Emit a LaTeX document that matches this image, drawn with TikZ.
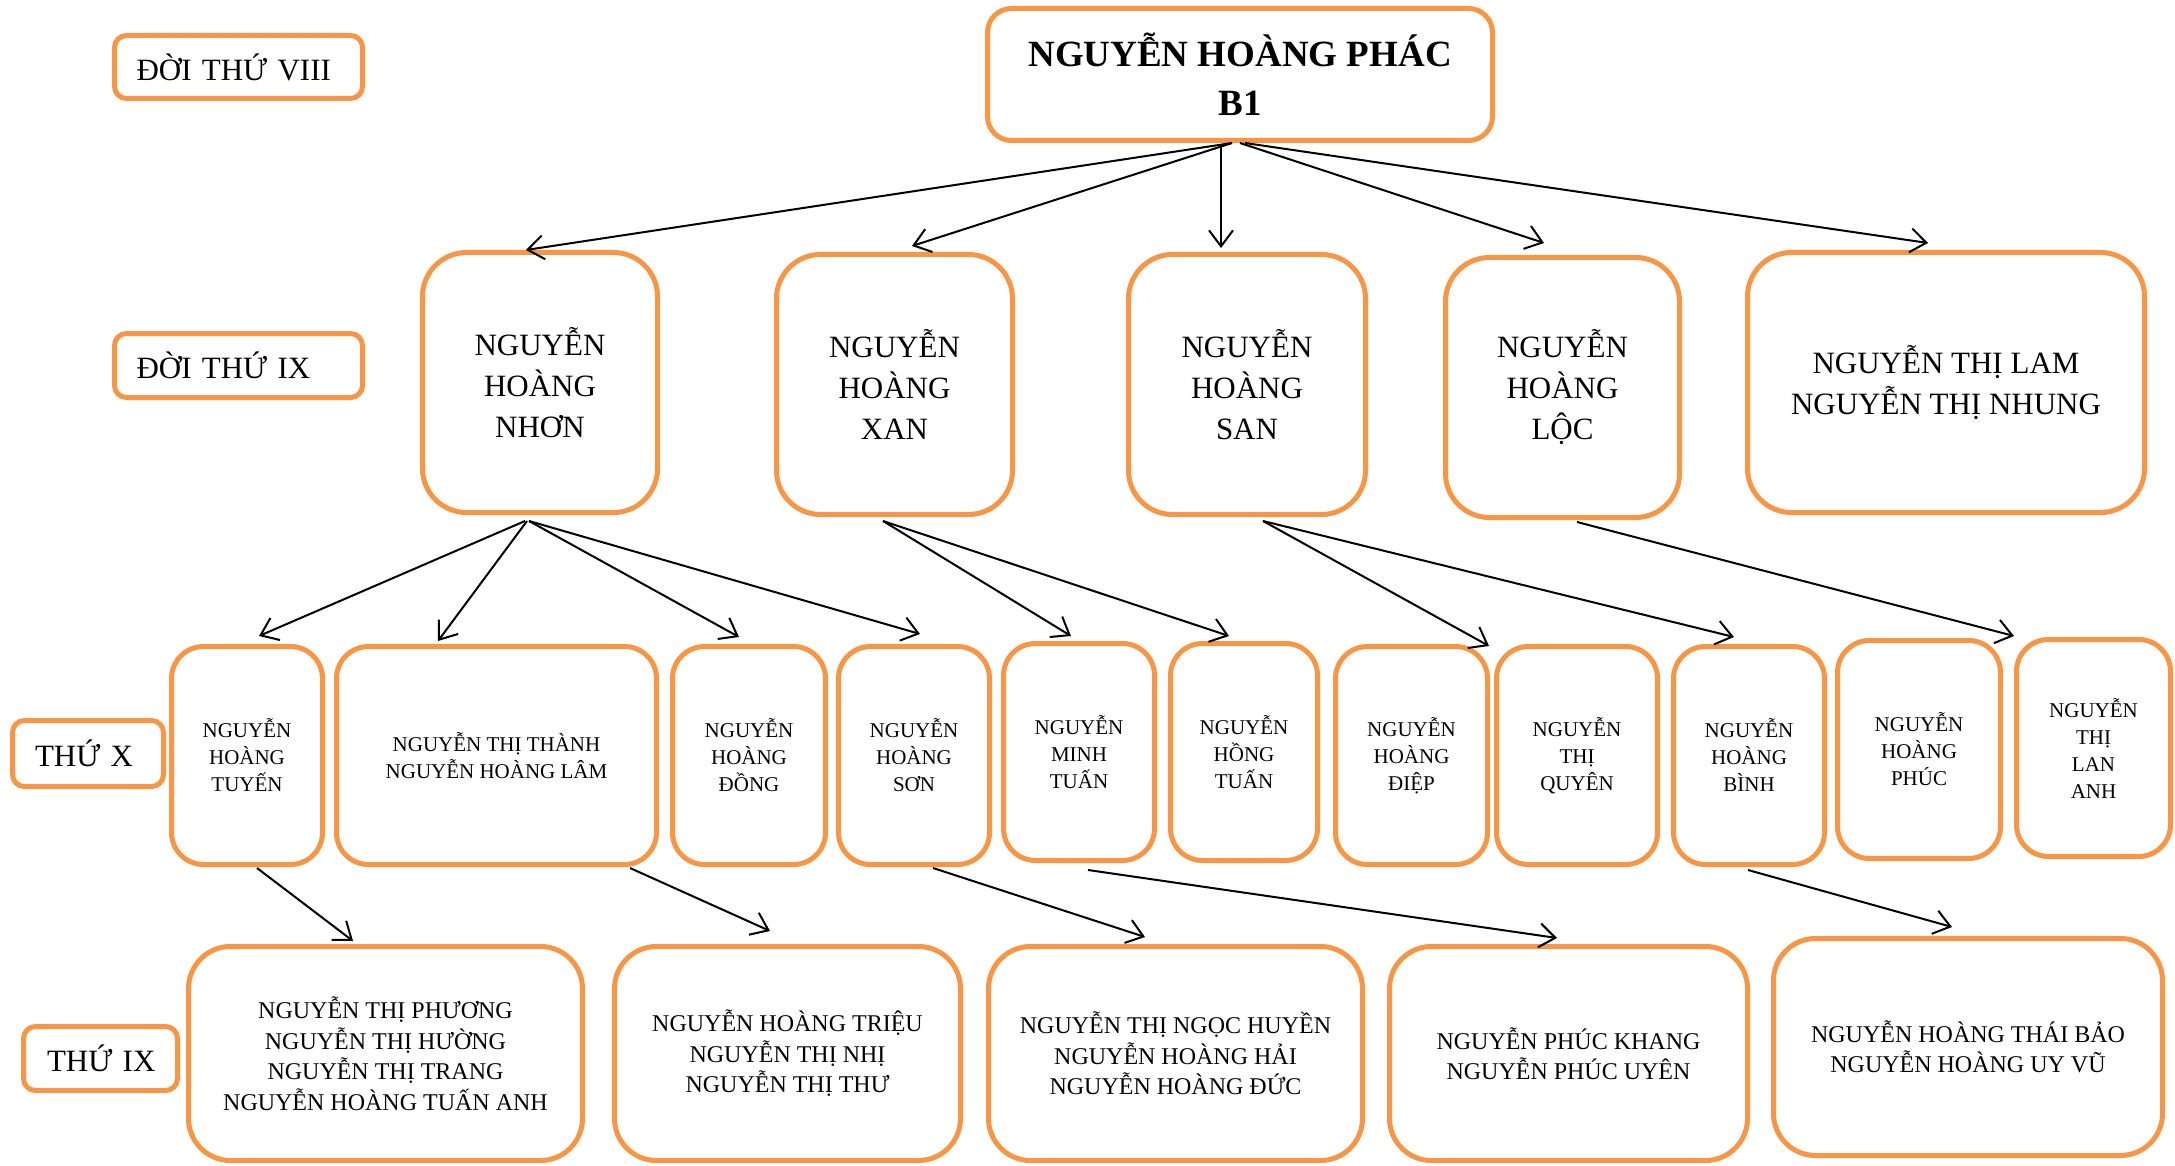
\documentclass[tikz,border=0pt]{standalone}
\usepackage{fontspec}
\setmainfont{Liberation Serif}
\usetikzlibrary{arrows.meta}
\definecolor{boxorange}{HTML}{F79646}
\begin{document}
\begin{tikzpicture}[x=1pt,y=-1pt,
  box/.style={draw=boxorange, line width=5pt, fill=white, align=center, inner sep=0pt, text=black},
  lbl/.style={box, rounded corners=12pt, font=\fontsize{31}{38}\selectfont, align=left},
  topbox/.style={box, rounded corners=24pt, minimum width=505pt, minimum height=132pt, font=\fontsize{37}{49}\selectfont\bfseries},
  gennine/.style={box, rounded corners=44pt, minimum height=260pt, font=\fontsize{31}{41}\selectfont},
  genten/.style={box, rounded corners=32pt, minimum height=218pt, font=\fontsize{21}{27}\selectfont},
  genlast/.style={box, rounded corners=42pt, minimum height=214pt, font=\fontsize{24}{30.5}\selectfont},
  arr/.style={line width=2pt, draw=black, -{Straight Barb[length=16pt,width=24pt]}}
]
\path[use as bounding box, fill=white] (0,0) rectangle (2175,1166);

% generation labels
\node[lbl, minimum width=248pt, minimum height=63pt, text width=204pt] (l8) at (238.5,67) {\mbox{ĐỜI THỨ VIII}};
\node[lbl, minimum width=248pt, minimum height=64pt, text width=204pt] (l9) at (238.5,365.5) {\mbox{ĐỜI THỨ IX}};
\node[lbl, minimum width=151pt, minimum height=66pt, text width=106pt] (l10) at (88,753.5) {\mbox{THỨ X}};
\node[lbl, minimum width=154pt, minimum height=64pt, text width=107pt] (l11) at (100.5,1058.5) {\mbox{THỨ IX}};

% top
\node[topbox] (top) at (1240,74.5) {NGUYỄN HOÀNG PHÁC\\B1};

% generation IX
\node[gennine, minimum width=235pt] (nhon) at (540,382.5) {NGUYỄN\\HOÀNG\\NHƠN};
\node[gennine, minimum width=236pt] (xan) at (894.5,384.5) {NGUYỄN\\HOÀNG\\XAN};
\node[gennine, minimum width=237pt] (san) at (1247,384.5) {NGUYỄN\\HOÀNG\\SAN};
\node[gennine, minimum width=234pt] (loc) at (1562.5,387.5) {NGUYỄN\\HOÀNG\\LỘC};
\node[gennine, minimum width=397pt] (lam) at (1946,382.5) {NGUYỄN THỊ LAM\\NGUYỄN THỊ NHUNG};

% generation X
\node[genten, minimum width=151pt] (tuyen) at (247,755.5) {NGUYỄN\\HOÀNG\\TUYẾN};
\node[genten, minimum width=320pt] (thanh) at (496.5,755.5) {NGUYỄN THỊ THÀNH\\NGUYỄN HOÀNG LÂM};
\node[genten, minimum width=153pt] (dong) at (749,755.5) {NGUYỄN\\HOÀNG\\ĐỒNG};
\node[genten, minimum width=151pt] (son) at (914,755.5) {NGUYỄN\\HOÀNG\\SƠN};
\node[genten, minimum width=151pt, minimum height=217pt] (minh) at (1079,752) {NGUYỄN\\MINH\\TUẤN};
\node[genten, minimum width=147pt, minimum height=217pt] (hong) at (1244,752) {NGUYỄN\\HỒNG\\TUẤN};
\node[genten, minimum width=152pt] (diep) at (1411.5,755.5) {NGUYỄN\\HOÀNG\\ĐIỆP};
\node[genten, minimum width=161pt] (quyen) at (1577,755.5) {NGUYỄN\\THỊ\\QUYÊN};
\node[genten, minimum width=151pt] (binh) at (1749,755.5) {NGUYỄN\\HOÀNG\\BÌNH};
\node[genten, minimum width=163pt] (phuc) at (1919,749.5) {NGUYỄN\\HOÀNG\\PHÚC};
\node[genten, minimum width=154pt, minimum height=217pt] (lananh) at (2093.5,748) {NGUYỄN\\THỊ\\LAN\\ANH};

% bottom generation
\node[genlast, minimum width=394pt] (bone) at (385.5,1053.5) {NGUYỄN THỊ PHƯƠNG\\NGUYỄN THỊ HƯỜNG\\NGUYỄN THỊ TRANG\\NGUYỄN HOÀNG TUẤN ANH};
\node[genlast, minimum width=346pt] (btwo) at (787.5,1053.5) {NGUYỄN HOÀNG TRIỆU\\NGUYỄN THỊ NHỊ\\NGUYỄN THỊ THƯ};
\node[genlast, minimum width=374pt] (bthree) at (1175.5,1053.5) {NGUYỄN THỊ NGỌC HUYỀN\\NGUYỄN HOÀNG HẢI\\NGUYỄN HOÀNG ĐỨC};
\node[genlast, minimum width=358pt] (bfour) at (1568.5,1053.5) {NGUYỄN PHÚC KHANG\\NGUYỄN PHÚC UYÊN};
\node[genlast, minimum width=389pt, minimum height=217pt] (bfive) at (1968,1047) {NGUYỄN HOÀNG THÁI BẢO\\NGUYỄN HOÀNG UY VŨ};

% arrows top -> IX
\draw[arr] ([xshift=-8pt]top.south) -- ([xshift=-14pt]nhon.north);
\draw[arr] ([xshift=-8pt]top.south) -- ([xshift=17.5pt,yshift=6pt]xan.north);
\draw[arr] ([xshift=-19pt,yshift=-2pt]top.south) -- ([xshift=-26pt,yshift=4pt]san.north);
\draw[arr] (top.south) -- ([xshift=-18.5pt,yshift=12pt]loc.north);
\draw[arr] ([xshift=5pt]top.south) -- ([xshift=-18pt,yshift=7pt]lam.north);

% IX -> X
\draw[arr] ([xshift=-15pt,yshift=-6pt]nhon.south) -- ([xshift=12pt,yshift=8pt]tuyen.north);
\draw[arr] ([xshift=-13pt,yshift=-6pt]nhon.south) -- ([xshift=-58.5pt,yshift=3pt]thanh.north);
\draw[arr] ([xshift=-11pt,yshift=-6pt]nhon.south) -- ([xshift=-10pt,yshift=7pt]dong.north);
\draw[arr] ([xshift=-11pt,yshift=-6pt]nhon.south) -- ([xshift=6pt,yshift=10pt]son.north);
\draw[arr] ([xshift=-11.5pt,yshift=-4pt]xan.south) -- ([xshift=-8pt,yshift=5pt]minh.north);
\draw[arr] ([xshift=-11.5pt,yshift=-4pt]xan.south) -- ([xshift=-15pt,yshift=5pt]hong.north);
\draw[arr] ([xshift=16pt,yshift=-4pt]san.south) -- ([xshift=-1pt,yshift=-2pt]diep.north east);
\draw[arr] ([xshift=16pt,yshift=-4pt]san.south) -- ([xshift=-15pt,yshift=7pt]binh.north);
\draw[arr] ([xshift=14.5pt,yshift=-2pt]loc.south) -- ([yshift=1pt]lananh.north west);

% X -> last
\draw[arr] ([xshift=10pt,yshift=-1pt]tuyen.south) -- ([xshift=-32.5pt,yshift=3pt]bone.north);
\draw[arr] ([xshift=133.5pt,yshift=-1pt]thanh.south) -- ([xshift=-17.5pt,yshift=13pt]btwo.north);
\draw[arr] ([xshift=19pt,yshift=-1pt]son.south) -- ([xshift=-30.5pt,yshift=7pt]bthree.north);
\draw[arr] ([xshift=9pt,yshift=-7pt]minh.south) -- ([xshift=-11.5pt,yshift=6pt]bfour.north);
\draw[arr] ([xshift=-1pt,yshift=-3pt]binh.south) -- ([xshift=-16pt,yshift=9pt]bfive.north);
\end{tikzpicture}
\end{document}
